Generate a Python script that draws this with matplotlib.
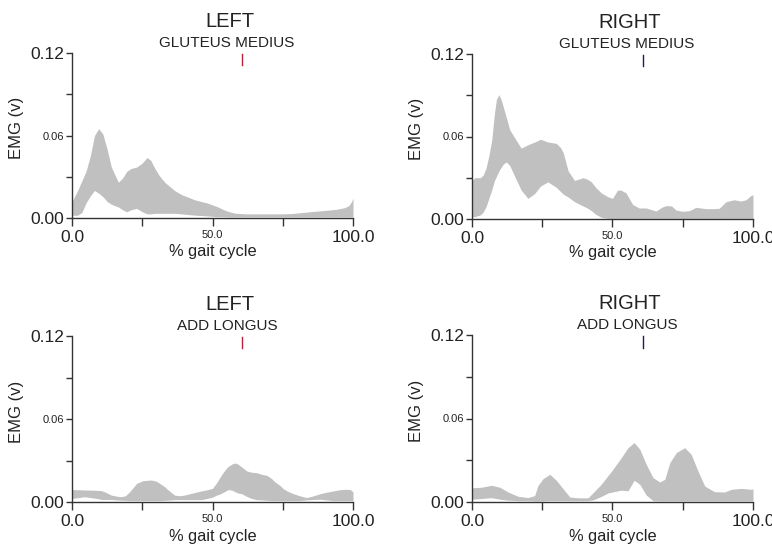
import matplotlib
matplotlib.use("Agg")
import matplotlib.pyplot as plt

plt.rcParams['font.family'] = ['Liberation Sans', 'DejaVu Sans']

# ---- LEFT gluteus medius: ensemble envelope (upper / lower) ----
gm_left_x = [0, 2, 3.5, 5, 6.5, 8, 9.5, 11, 12.5, 14,
             16.5, 18, 19.5, 21, 23, 25, 26.7, 28, 29.5, 31,
             33, 36.5, 39, 41.5, 44, 46, 48, 50, 52, 54,
             56, 58, 62, 66, 70, 74, 78, 82, 86, 90,
             94, 97, 98.5, 99.5, 100]
gm_left_upper = [0.012, 0.020, 0.027, 0.034, 0.045, 0.060, 0.065, 0.061, 0.050, 0.037,
                 0.026, 0.029, 0.034, 0.036, 0.037, 0.040, 0.044, 0.042, 0.036, 0.031,
                 0.026, 0.020, 0.017, 0.015, 0.013, 0.012, 0.011, 0.0095, 0.008, 0.006,
                 0.0045, 0.0035, 0.003, 0.003, 0.003, 0.003, 0.0032, 0.004, 0.0048, 0.0055,
                 0.0063, 0.0075, 0.009, 0.012, 0.0145]
gm_left_lower = [0.002, 0.002, 0.004, 0.011, 0.016, 0.020, 0.018, 0.0155, 0.012, 0.010,
                 0.008, 0.006, 0.0045, 0.006, 0.007, 0.0045, 0.003, 0.003, 0.0034, 0.0034,
                 0.0034, 0.0034, 0.003, 0.0025, 0.002, 0.0018, 0.0015, 0.0012, 0.001, 0.001,
                 0.0008, 0.0008, 0.0008, 0.0008, 0.0008, 0.0008, 0.0008, 0.0008, 0.0008, 0.0008,
                 0.0008, 0.0008, 0.0008, 0.0008, 0.0008]

# ---- RIGHT gluteus medius ----
gm_right_x = [0, 1, 3, 4, 5, 6, 7, 8, 8.7, 9.6,
              10.5, 11.2, 12.2, 13.4, 15.2, 17.5, 19.9, 22.3, 24.4, 27,
              30, 31.5, 32.5, 34.2, 36.5, 39.5, 41, 42.5, 44, 46,
              48.5, 50, 51.8, 53, 54.8, 57.2, 59.5, 62, 65.5, 67.5,
              69, 71, 72.6, 75, 77.3, 79.7, 83.3, 86, 88, 90.4,
              93.3, 95.7, 97.5, 99.3, 100]
gm_right_upper = [0.028, 0.030, 0.030, 0.032, 0.037, 0.046, 0.057, 0.077, 0.087, 0.0905,
                  0.086, 0.081, 0.074, 0.065, 0.059, 0.0515, 0.054, 0.056, 0.058, 0.056,
                  0.055, 0.052, 0.048, 0.035, 0.028, 0.030, 0.029, 0.027, 0.023, 0.019,
                  0.016, 0.015, 0.021, 0.021, 0.019, 0.0105, 0.008, 0.008, 0.0058, 0.0085,
                  0.0097, 0.0095, 0.0065, 0.0056, 0.006, 0.0085, 0.0075, 0.0075, 0.0078, 0.0126,
                  0.0140, 0.013, 0.014, 0.0172, 0.0175]
gm_right_lower = [0.0015, 0.0017, 0.003, 0.005, 0.009, 0.015, 0.021, 0.028, 0.031, 0.035,
                  0.038, 0.040, 0.0415, 0.039, 0.031, 0.021, 0.015, 0.0185, 0.024, 0.027,
                  0.023, 0.020, 0.018, 0.016, 0.0126, 0.0095, 0.008, 0.006, 0.0035, 0.0012,
                  0.0005, 0.0005, 0.0005, 0.0005, 0.0005, 0.0005, 0.0005, 0.0005, 0.0005, 0.0005,
                  0.0005, 0.0005, 0.0005, 0.0005, 0.0005, 0.0005, 0.0005, 0.0005, 0.0005, 0.0005,
                  0.0005, 0.0005, 0.0005, 0.0005, 0.0005]

# ---- LEFT adductor longus ----
al_left_x = [0, 4.5, 8, 10.5, 12, 14, 16, 17.5, 19, 20.5,
             22, 23, 25.3, 28.2, 30, 31.2, 33, 34.2, 36.5, 38,
             40, 43, 46, 48, 50, 51.5, 52.7, 54, 55.6, 57,
             58, 59, 60.4, 62.2, 64, 65.7, 67.5, 69.3, 71, 72.2,
             74, 75.2, 77, 78.8, 81, 83.5, 86, 88.3, 90.5, 93,
             95, 97.2, 99, 100]
al_left_upper = [0.009, 0.0087, 0.0085, 0.0082, 0.007, 0.005, 0.0042, 0.0038, 0.0045, 0.0074,
                 0.011, 0.0135, 0.0154, 0.0159, 0.015, 0.0135, 0.011, 0.0087, 0.005, 0.0045,
                 0.005, 0.0065, 0.008, 0.0088, 0.0099, 0.014, 0.018, 0.022, 0.0258, 0.0275,
                 0.0282, 0.0275, 0.0253, 0.0224, 0.0215, 0.0212, 0.020, 0.0193, 0.017, 0.0145,
                 0.012, 0.0096, 0.0075, 0.006, 0.0045, 0.0032, 0.0045, 0.006, 0.007, 0.008,
                 0.0088, 0.0092, 0.009, 0.0073]
al_left_lower = [0.0026, 0.0038, 0.0028, 0.0019, 0.0018, 0.0018, 0.0015, 0.0013, 0.0012, 0.001,
                 0.001, 0.001, 0.001, 0.001, 0.001, 0.001, 0.0012, 0.0013, 0.0017, 0.0017,
                 0.0017, 0.0017, 0.0017, 0.0025, 0.0035, 0.005, 0.0058, 0.0072, 0.009, 0.0085,
                 0.0075, 0.0065, 0.006, 0.004, 0.0025, 0.0017, 0.0015, 0.0012, 0.001, 0.001,
                 0.001, 0.001, 0.001, 0.001, 0.001, 0.0015, 0.0018, 0.002, 0.0015, 0.001,
                 0.001, 0.001, 0.001, 0.001]

# ---- RIGHT adductor longus ----
al_right_x = [0, 3.3, 6.9, 9.9, 12.8, 16.4, 19.9, 22.3, 23.5, 25.3,
              27.7, 30, 32.4, 34.8, 37.7, 41.3, 43.1, 46, 48.4, 49.6,
              53.1, 55.5, 57.7, 59.7, 62, 64.4, 66.8, 68.6, 70.4, 72.7,
              75.7, 78, 80.4, 82.8, 86.3, 89.9, 92.3, 95.8, 99.4, 100]
al_right_upper = [0.0102, 0.0106, 0.012, 0.0106, 0.0072, 0.0041, 0.0032, 0.0046, 0.012, 0.0168,
                  0.0199, 0.0156, 0.0096, 0.0036, 0.003, 0.003, 0.0067, 0.0128, 0.019, 0.022,
                  0.0318, 0.039, 0.0427, 0.0379, 0.0271, 0.0175, 0.0144, 0.0163, 0.0283, 0.0355,
                  0.039, 0.0343, 0.0223, 0.0115, 0.0074, 0.0072, 0.0091, 0.0098, 0.0091, 0.0095]
al_right_lower = [0.002, 0.0025, 0.0031, 0.002, 0.0013, 0.001, 0.001, 0.0008, 0.0008, 0.0008,
                  0.001, 0.001, 0.001, 0.001, 0.001, 0.001, 0.0015, 0.004, 0.0065, 0.007,
                  0.0085, 0.008, 0.0156, 0.0127, 0.005, 0.001, 0.0008, 0.0008, 0.0008, 0.0008,
                  0.0008, 0.0008, 0.0008, 0.0008, 0.0008, 0.0008, 0.0008, 0.0008, 0.0008, 0.0008]

# toe-off event marker (% gait cycle) per side
toe_off_left = 60.5
toe_off_right = 61.0

y_ticks = [0.0, 0.03, 0.06, 0.09, 0.12]
y_tick_labels = ["0.00", "", "0.06", "", "0.12"]
x_ticks = [0, 25, 50, 75, 100]
x_tick_labels = ["0.0", "", "50.0", "", "100.0"]

W, H = 772, 546
fig = plt.figure(figsize=(W / 100, H / 100), dpi=100)

band_color = "#c0c0c0"
axis_color = "#333333"
text_color = "#222222"


def panel(rect_px, x, upper, lower, side, muscle, event, event_color):
    left, top, right, bottom = rect_px
    ax = fig.add_axes([left / W, 1 - bottom / H, (right - left) / W, (bottom - top) / H])
    ax.fill_between(x, lower, upper, color=band_color, linewidth=0)
    ax.plot([event, event], [0.111, 0.1195], color=event_color, lw=1.0, clip_on=False)
    ax.set_xlim(0, 100)
    ax.set_ylim(0, 0.12)
    for s in ("top", "right"):
        ax.spines[s].set_visible(False)
    for s in ("left", "bottom"):
        ax.spines[s].set_color(axis_color)
        ax.spines[s].set_linewidth(1.0)
    ax.set_yticks(y_ticks)
    ax.set_yticklabels(y_tick_labels)
    ax.set_xticks(x_ticks)
    ax.set_xticklabels(x_tick_labels)
    ax.tick_params(axis="y", direction="out", length=4, width=1, color=axis_color,
                   pad=1.5, labelcolor=text_color)
    ax.tick_params(axis="x", direction="out", length=6, width=1, color=axis_color,
                   pad=2.5, labelcolor=text_color)
    for lab, t in zip(ax.get_yticklabels(), y_tick_labels):
        lab.set_fontsize(8 if t == "0.06" else 12.5)
    for lab, t in zip(ax.get_xticklabels(), x_tick_labels):
        lab.set_fontsize(8 if t == "50.0" else 12.5)
    ax.set_xlabel("% gait cycle", fontsize=11.8, color=text_color)
    ax.xaxis.set_label_coords(0.5, -0.205)
    ax.xaxis.label.set_va("center")
    ax.set_ylabel("EMG (v)", fontsize=12, color=text_color)
    ax.yaxis.set_label_coords(-0.197, 0.545)
    ax.yaxis.label.set_va("center")
    ax.text(0.562, 1.19, side, transform=ax.transAxes, ha="center", va="center",
            fontsize=14.5, color=text_color)
    ax.text(0.552, 1.058, muscle, transform=ax.transAxes, ha="center", va="center",
            fontsize=11, color=text_color)
    return ax


panel((72, 53, 353, 218), gm_left_x, gm_left_upper, gm_left_lower,
      "LEFT", "GLUTEUS MEDIUS", toe_off_left, "#b8203a")
panel((472, 54, 753, 219), gm_right_x, gm_right_upper, gm_right_lower,
      "RIGHT", "GLUTEUS MEDIUS", toe_off_right, "#1c1c5c")
panel((72, 336, 353, 502), al_left_x, al_left_upper, al_left_lower,
      "LEFT", "ADD LONGUS", toe_off_left, "#b8203a")
panel((472, 335, 753, 502), al_right_x, al_right_upper, al_right_lower,
      "RIGHT", "ADD LONGUS", toe_off_right, "#1c1c5c")

fig.savefig("out.png", dpi=100, facecolor="white")
